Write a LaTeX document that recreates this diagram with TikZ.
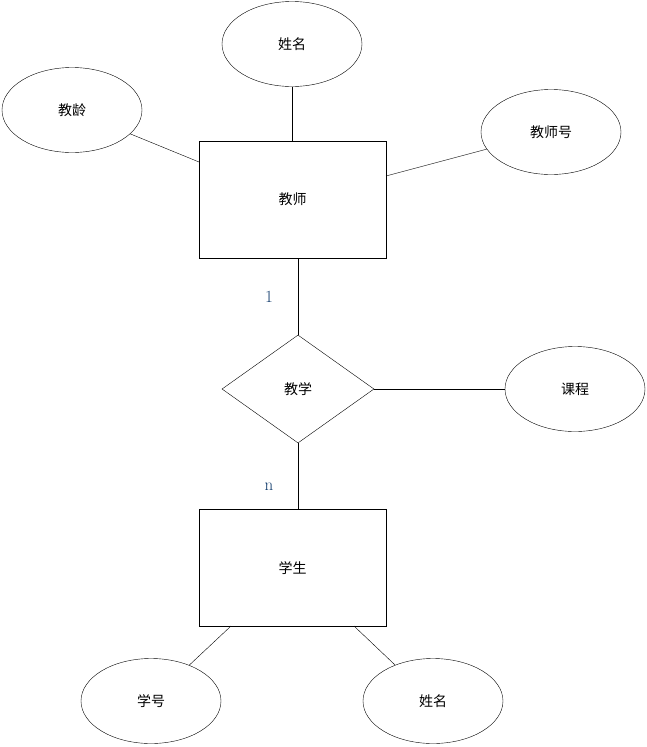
\documentclass[tikz,border=0pt]{standalone}
\usepackage{fontspec}
\newfontfamily\cjk{Noto Sans CJK SC}
\usetikzlibrary{shapes.geometric}
\definecolor{cardblue}{HTML}{0F3A6B}
\tikzset{entity/.style={draw,minimum width=187pt,minimum height=117pt,font=\cjk\fontsize{14}{16}\selectfont},
         attr/.style={draw,ellipse,minimum width=140pt,minimum height=85pt,font=\cjk\fontsize{14}{16}\selectfont},
         rel/.style={draw,diamond,minimum width=152pt,minimum height=108pt,inner sep=0pt,font=\cjk\fontsize{14}{16}\selectfont},
         card/.style={text=cardblue,font=\fontsize{17}{19}\selectfont}
     }

\begin{document}
\begin{tikzpicture}[x=1pt,y=-1pt]
\useasboundingbox (0,0) rectangle (647,747);
\node[entity](teacher) at (292.5,199.5) {教师};
\node[attr](tname) at (292,44) {姓名};
\node[attr](tage) at (72,110) {教龄};
\node[attr](tid) at (551,132) {教师号};
\node[rel](teach) at (298,389) {教学};
\node[attr](course) at (575,389) {课程};
\node[entity](student) at (292.5,568) {学生};
\node[attr](sid) at (151,701) {学号};
\node[attr](sname) at (433,701) {姓名};
\node[card](one) at (269,297) {1};
\node[card](many) at (269,487) {n};
\coordinate (tl) at (199,162);
\coordinate (tr) at (386,176);
\coordinate (sl) at (231,626);
\coordinate (sr) at (354,626);
\draw (tname) -- (teacher.north -| tname);
\draw (tage) -- (tl);
\draw (tid) -- (tr);
\draw (teacher.south -| teach) -- (teach.north);
\draw (teach.east) -- (course);
\draw (teach.south) -- (student.north -| teach);
\draw (sl) -- (sid);
\draw (sr) -- (sname);
\end{tikzpicture}
\end{document}
